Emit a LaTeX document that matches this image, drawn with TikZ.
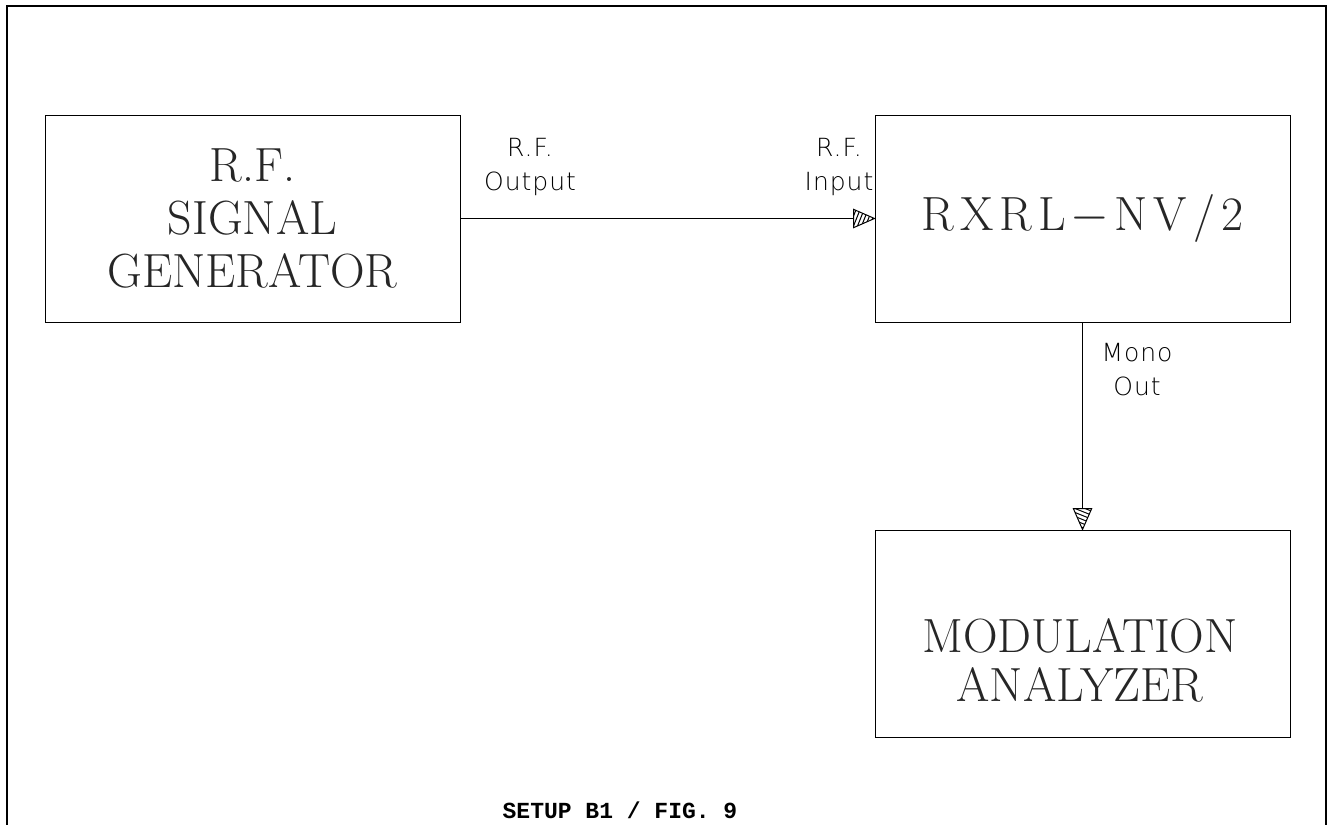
\documentclass[tikz,border=0pt]{standalone}
\usepackage{fontspec}
\newfontfamily\lblfont{DejaVu Sans ExtraLight}[LetterSpace=4]
\newfontfamily\capfont{Liberation Mono}
\usetikzlibrary{arrows.meta}
\pgfdeclarearrow{
  name = Hatched,
  setup code = {
    \pgfarrowssettipend{0pt}
    \pgfarrowssetlineend{-10.5pt}
    \pgfarrowssetvisualbackend{-10.5pt}
    \pgfarrowssetbackend{-10.5pt}
    \pgfarrowshullpoint{0pt}{0pt}
    \pgfarrowsupperhullpoint{-10.5pt}{4.6pt}
  },
  drawing code = {
    \pgfsetdash{}{0pt}
    \pgfsetlinewidth{0.5pt}
    \begin{pgfscope}
      \pgfpathmoveto{\pgfpoint{0pt}{0pt}}
      \pgfpathlineto{\pgfpoint{-10.5pt}{4.6pt}}
      \pgfpathlineto{\pgfpoint{-10.5pt}{-4.6pt}}
      \pgfpathclose
      \pgfusepathqclip
      \foreach \hx in {-1,-3,-5,-7,-9,-11,-13}{
        \pgfpathmoveto{\pgfpoint{\hx pt - 2pt}{-5pt}}
        \pgfpathlineto{\pgfpoint{\hx pt + 2pt}{5pt}}
      }
      \pgfusepathqstroke
    \end{pgfscope}
    \pgfpathmoveto{\pgfpoint{0pt}{0pt}}
    \pgfpathlineto{\pgfpoint{-10.5pt}{4.6pt}}
    \pgfpathlineto{\pgfpoint{-10.5pt}{-4.6pt}}
    \pgfpathclose
    \pgfusepathqstroke
  },
  defaults = {}
}
\tikzset{
  unitbox/.style={draw, line width=0.5pt, minimum width=207.5pt, minimum height=103.5pt, inner sep=0pt,
    align=center, font=\fontsize{24}{26.5}\selectfont\addfontfeatures{LetterSpace=6}, text=black!85},
  boxtext/.style={inner sep=0pt, align=center, text=black!85,
    font=\fontsize{24}{24.5}\selectfont\addfontfeatures{LetterSpace=18}},
  lbl/.style={inner sep=0pt, align=center, font=\lblfont\fontsize{12.5}{17}\selectfont},
  conn/.style={line width=0.5pt, -{Hatched}}
}
\begin{document}
\begin{tikzpicture}[x=0.5pt, y=-0.5pt]
\useasboundingbox (0,0) rectangle (1331,824);
\fill[white] (0,0) rectangle (1331,824);
\draw[line width=1.3pt] (7,850) -- (7,6) -- (1326,6) -- (1326,850);
\node[unitbox] (gen) at (252.5,218.5) {R.F.\\SIGNAL\\GENERATOR};
\node[unitbox] (rx) at (1082.5,218.5) {R\kern3pt X\kern3pt R\kern3pt L\kern2.5pt$-$\kern2.5pt N\kern3pt V\kern3pt /\kern3pt 2};
\node[unitbox] (mod) at (1082.5,633.5) {};
\node[boxtext] (modtxt) at (1080,660) {MODULATION\\ANALYZER};
\draw[conn] (gen.east) -- (rx.west);
\draw[conn] (rx.south) -- (mod.north);
\node[lbl] (outlbl) at (530,167) {R.F.\\Output};
\node[lbl] (inlbl) at (839,167) {R.F.\\Input};
\node[lbl] (monolbl) at (1137,370) {Mono\\Out};
\node[inner sep=0pt, font=\capfont\bfseries\fontsize{11.5}{14}\selectfont] (cap) at (620,810) {SETUP B1 / FIG. 9};
\end{tikzpicture}
\end{document}
